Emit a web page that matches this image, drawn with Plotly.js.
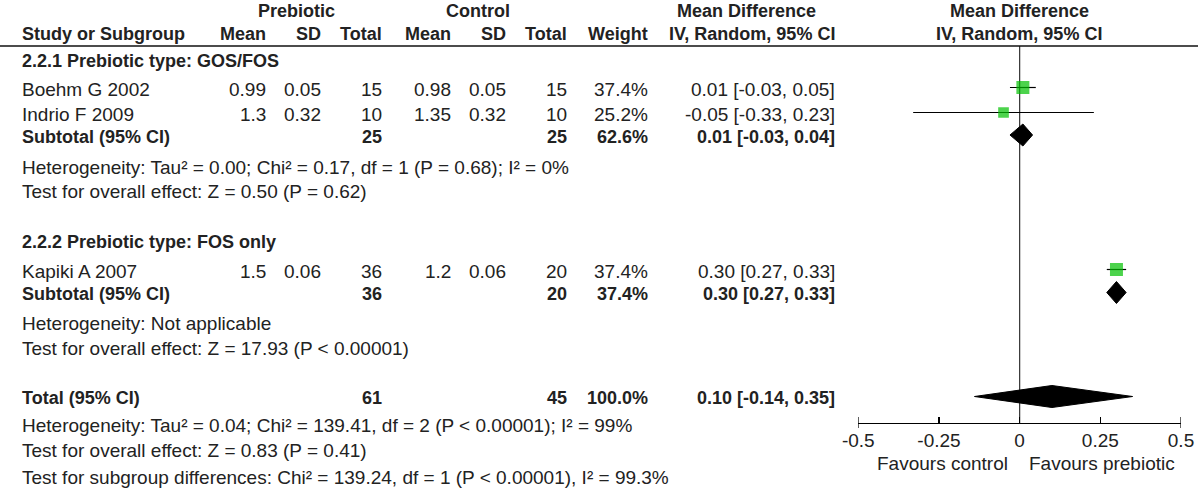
<!DOCTYPE html>
<html>
<head>
<meta charset="utf-8">
<script src="https://cdn.plot.ly/plotly-3.0.1.min.js"></script>
<style>
  body { margin: 0; background: #fff; }
  #forest { width: 1200px; height: 489px; }
</style>
</head>
<body>
<div id="forest"></div>
<script>
// study rows
const studies = ['Boehm G 2002', 'Indrio F 2009', 'Kapiki A 2007'];
const preMean = [0.99, 1.3, 1.5];
const preSD = [0.05, 0.32, 0.06];
const preN = [15, 10, 36];
const ctlMean = [0.98, 1.35, 1.2];
const ctlSD = [0.05, 0.32, 0.06];
const ctlN = [15, 10, 20];
const weight = [37.4, 25.2, 37.4];
const md = [0.01, -0.05, 0.30];
const ciLo = [-0.03, -0.33, 0.27];
const ciHi = [0.05, 0.23, 0.33];

// subgroups
const groupNames = ['2.2.1 Prebiotic type: GOS/FOS', '2.2.2 Prebiotic type: FOS only'];
const groupPreN = [25, 36];
const groupCtlN = [25, 20];
const groupWeight = [62.6, 37.4];
const groupMd = [0.01, 0.30];
const groupLo = [-0.03, 0.27];
const groupHi = [0.04, 0.33];
const groupHet = [
    'Heterogeneity: Tau² = 0.00; Chi² = 0.17, df = 1 (P = 0.68); I² = 0%',
    'Heterogeneity: Not applicable'
];
const groupTest = [
    'Test for overall effect: Z = 0.50 (P = 0.62)',
    'Test for overall effect: Z = 17.93 (P &lt; 0.00001)'
];

// overall
const totalPreN = 61;
const totalCtlN = 45;
const totalWeight = 100.0;
const totalMd = 0.10;
const totalLo = -0.14;
const totalHi = 0.35;
const totalNotes = [
    'Heterogeneity: Tau² = 0.04; Chi² = 139.41, df = 2 (P &lt; 0.00001); I² = 99%',
    'Test for overall effect: Z = 0.83 (P = 0.41)',
    'Test for subgroup differences: Chi² = 139.24, df = 1 (P &lt; 0.00001), I² = 99.3%'
];

const tickVals = [-0.5, -0.25, 0, 0.25, 0.5];
const tickText = ['-0.5', '-0.25', '0', '0.25', '0.5'];
const favours = ['Favours control', 'Favours prebiotic'];


// page geometry (pixels)
const W = 1200, H = 489;
const col = {pm: 268, psd: 323, pn: 384, cm: 453, csd: 508, cn: 569, w: 650, ci: 837};
const studyY = [89, 114, 271];
const groupY = [61, 241.5];
const subY = [136.5, 294];
const hetY = [167, 323];
const testY = [191.5, 348];
const totalY = 398;
const notesY = [425, 450, 477];
const axisY = 423;
const lineY = 46;
const markShift = -1.5;
const halfDiamond = 11;
const textSize = 19;
const boldSize = 18;


function fmtCI(m, lo, hi) {
    return m.toFixed(2) + ' [' + lo.toFixed(2) + ', ' + hi.toFixed(2) + ']';
}

function txt(text, x, y, anchor, bold) {
    return {
        text: bold ? '<b>' + text + '</b>' : text,
        x: x / W, y: y,
        xref: 'paper', yref: 'y',
        xanchor: anchor, yanchor: 'middle',
        font: {size: bold ? boldSize : textSize},
        showarrow: false,
    };
}

function diamond(m, lo, hi, y) {
    return {
        x: [lo, m, hi, m, lo],
        y: [y, y - halfDiamond, y, y + halfDiamond, y],
        type: 'scatter',
        mode: 'lines',
        fill: 'toself',
        fillcolor: '#000',
        line: {color: '#000', width: 1},
        hoverinfo: 'skip',
    };
}


function forestPlot(id) {
    let anns = [];

    // headers
    anns.push(txt('Prebiotic', 296, 11, 'center', true));
    anns.push(txt('Control', 478, 11, 'center', true));
    anns.push(txt('Mean Difference', 746, 11, 'center', true));
    anns.push(txt('Mean Difference', 1019, 11, 'center', true));
    anns.push(txt('Study or Subgroup', 20, 34, 'left', true));
    anns.push(txt('Mean', col.pm, 34, 'right', true));
    anns.push(txt('SD', col.psd, 34, 'right', true));
    anns.push(txt('Total', col.pn, 34, 'right', true));
    anns.push(txt('Mean', col.cm, 34, 'right', true));
    anns.push(txt('SD', col.csd, 34, 'right', true));
    anns.push(txt('Total', col.cn, 34, 'right', true));
    anns.push(txt('Weight', col.w, 34, 'right', true));
    anns.push(txt('IV, Random, 95% CI', col.ci, 34, 'right', true));
    anns.push(txt('IV, Random, 95% CI', 1019, 34, 'center', true));

    // study rows
    for (let i = 0; i < studies.length; i++) {
        let y = studyY[i];
        anns.push(txt(studies[i], 20, y, 'left'));
        anns.push(txt(String(preMean[i]), col.pm, y, 'right'));
        anns.push(txt(preSD[i].toFixed(2), col.psd, y, 'right'));
        anns.push(txt(String(preN[i]), col.pn, y, 'right'));
        anns.push(txt(String(ctlMean[i]), col.cm, y, 'right'));
        anns.push(txt(ctlSD[i].toFixed(2), col.csd, y, 'right'));
        anns.push(txt(String(ctlN[i]), col.cn, y, 'right'));
        anns.push(txt(weight[i].toFixed(1) + '%', col.w, y, 'right'));
        anns.push(txt(fmtCI(md[i], ciLo[i], ciHi[i]), col.ci, y, 'right'));
    }

    // subgroup rows
    for (let g = 0; g < groupNames.length; g++) {
        anns.push(txt(groupNames[g], 20, groupY[g], 'left', true));
        anns.push(txt('Subtotal (95% CI)', 20, subY[g], 'left', true));
        anns.push(txt(String(groupPreN[g]), col.pn, subY[g], 'right', true));
        anns.push(txt(String(groupCtlN[g]), col.cn, subY[g], 'right', true));
        anns.push(txt(groupWeight[g].toFixed(1) + '%', col.w, subY[g], 'right', true));
        anns.push(txt(fmtCI(groupMd[g], groupLo[g], groupHi[g]), col.ci, subY[g], 'right', true));
        anns.push(txt(groupHet[g], 20, hetY[g], 'left'));
        anns.push(txt(groupTest[g], 20, testY[g], 'left'));
    }

    // total
    anns.push(txt('Total (95% CI)', 20, totalY, 'left', true));
    anns.push(txt(String(totalPreN), col.pn, totalY, 'right', true));
    anns.push(txt(String(totalCtlN), col.cn, totalY, 'right', true));
    anns.push(txt(totalWeight.toFixed(1) + '%', col.w, totalY, 'right', true));
    anns.push(txt(fmtCI(totalMd, totalLo, totalHi), col.ci, totalY, 'right', true));
    totalNotes.forEach(function(t, k) {
        anns.push(txt(t, 20, notesY[k], 'left'));
    });

    anns.push(txt(favours[0], 1010, 463, 'right'));
    anns.push(txt(favours[1], 1027, 463, 'left'));

    // squares with CI whiskers
    let sizes = weight.map(function(w) { return 13 * Math.sqrt(w / 37.4); });
    let squares = {
        x: md,
        y: studyY.map(function(y) { return y + markShift; }),
        type: 'scatter',
        mode: 'markers',
        marker: {symbol: 'square', size: sizes, color: '#00c000', line: {width: 0}},
        error_x: {
            type: 'data',
            symmetric: false,
            array: md.map(function(m, i) { return ciHi[i] - m; }),
            arrayminus: md.map(function(m, i) { return m - ciLo[i]; }),
            width: 0,
            thickness: 1.2,
            color: '#000',
        },
        hoverinfo: 'skip',
    };

    let data = [squares];
    for (let g = 0; g < groupNames.length; g++) {
        data.push(diamond(groupMd[g], groupLo[g], groupHi[g], subY[g] + markShift));
    }
    data.push(diamond(totalMd, totalLo, totalHi, totalY + markShift));

    // end ticks reach a little below the axis line
    let endTicks = [tickVals[0], tickVals[tickVals.length - 1]].map(function(v) {
        return {type: 'line', xref: 'x', yref: 'y', x0: v, x1: v, y0: axisY - 6, y1: axisY + 5,
                line: {color: '#000', width: 1.2}};
    });

    let layout = {
        width: W,
        height: H,
        margin: {l: 0, r: 0, t: 0, b: 0},
        paper_bgcolor: '#fff',
        plot_bgcolor: 'rgba(0,0,0,0)',
        showlegend: false,
        font: {family: 'Liberation Sans, Arial, sans-serif', size: textSize, color: '#222'},
        xaxis: {
            domain: [858.3 / W, 1181 / W],
            range: [-0.5, 0.5],
            anchor: 'free',
            position: 1 - axisY / H,
            showline: true,
            linecolor: '#000',
            linewidth: 1.2,
            ticks: 'inside',
            ticklen: 6,
            tickwidth: 1.2,
            tickcolor: '#000',
            tickvals: tickVals,
            ticktext: tickText,
            tickfont: {size: textSize, color: '#222'},
            showgrid: false,
            zeroline: false,
            fixedrange: true,
        },
        yaxis: {
            domain: [0, 1],
            range: [H, 0],
            visible: false,
            showgrid: false,
            zeroline: false,
            fixedrange: true,
        },
        shapes: [
            {type: 'line', xref: 'paper', yref: 'y', x0: 0, x1: 1198 / W, y0: lineY, y1: lineY,
             line: {color: '#111', width: 1.5}},
            {type: 'line', xref: 'x', yref: 'y', x0: 0, x1: 0, y0: lineY, y1: axisY,
             line: {color: '#333', width: 1.2}, layer: 'below'},
        ].concat(endTicks),
        annotations: anns,
    };

    let config = {staticPlot: true};

    Plotly.newPlot(id, data, layout, config);
}


window.addEventListener('load', function () {
    forestPlot('forest');
})
</script>
</body>
</html>
